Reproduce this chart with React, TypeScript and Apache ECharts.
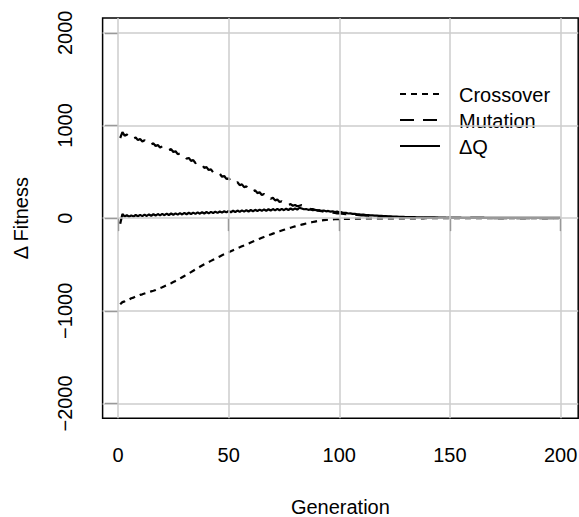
import React, { useEffect, useRef } from "react";
import * as echarts from "echarts";

// Generation index 1..200
const generations: number[] = Array.from({ length: 200 }, (_, i) => i + 1);

const crossover: number[] = [
  -930, -906, -898, -882, -878, -864, -858, -844, -840, -828,
  -822, -814, -806, -798, -790, -784, -776, -766, -756, -746,
  -735, -724, -713, -702, -690, -678, -666, -652, -638, -624,
  -610, -596, -582, -568, -553, -539, -525, -511, -497, -485,
  -473, -461, -449, -437, -425, -413, -401, -390, -379, -368,
  -357, -346, -336, -325, -315, -304, -294, -283, -273, -262,
  -252, -242, -232, -222, -212, -203, -194, -185, -176, -167,
  -158, -150, -142, -134, -126, -118, -110, -103, -96, -89,
  -82, -76, -70, -64, -58, -52, -47, -42, -37, -32,
  -28, -25, -22, -19, -17, -15, -13, -12, -11, -10,
  -9, -8, -8, -7, -7, -6, -6, -5, -5, -5,
  -4, -4, -4, -4, -3, -3, -3, -3, -3, -3,
  -2, -2, -2, -2, -2, -2, -2, -2, -2, -2,
  -2, -2, -2, -2, -2, -2, -2, -2, -1, -1,
  -1, -1, -1, -1, -1, -1, -1, -1, -1, -1,
  -1, -1, -1, -1, -1, -1, -1, -1, -1, -1,
  -1, -1, -1, -1, -1, -1, -1, -1, -1, -1,
  -1, -1, -1, -1, -1, -1, -1, -1, -1, -1,
  -1, -1, -1, -1, -1, -1, -1, -1, -1, -1,
  -1, -1, -1, -1, -1, -1, -1, -1, -1, -1,
];

const mutation: number[] = [
  865, 928, 890, 902, 874, 886, 858, 870, 842, 855,
  828, 840, 812, 824, 796, 807, 778, 790, 762, 775,
  755, 765, 735, 745, 714, 722, 690, 698, 666, 674,
  642, 650, 618, 626, 594, 602, 569, 576, 543, 551,
  519, 527, 495, 503, 471, 479, 447, 455, 423, 431,
  400, 409, 378, 387, 356, 365, 334, 343, 312, 321,
  290, 300, 270, 280, 250, 260, 230, 240, 210, 220,
  192, 200, 174, 182, 158, 166, 143, 151, 134, 142,
  128, 134, 140, 128, 116, 110, 100, 98, 88, 86,
  78, 76, 70, 68, 64, 62, 58, 56, 52, 50,
  48, 47, 44, 43, 40, 39, 36, 35, 32, 31,
  29, 28, 26, 25, 23, 22, 20, 19, 18, 17,
  16, 15, 14, 13, 12, 12, 11, 10, 10, 9,
  9, 8, 8, 7, 7, 7, 6, 6, 6, 5,
  5, 5, 5, 4, 4, 4, 4, 4, 3, 3,
  3, 3, 3, 3, 3, 2, 2, 2, 2, 2,
  2, 2, 2, 2, 2, 2, 2, 1, 1, 1,
  1, 1, 1, 1, 1, 1, 1, 1, 1, 1,
  1, 1, 1, 1, 1, 1, 1, 1, 1, 1,
  1, 1, 1, 1, 1, 1, 1, 1, 1, 1,
];

const deltaQ: number[] = [
  -60, 45, 18, 32, 15, 30, 18, 34, 20, 35,
  22, 38, 24, 40, 26, 42, 28, 44, 30, 46,
  32, 48, 34, 50, 36, 52, 38, 54, 40, 56,
  42, 58, 44, 60, 46, 62, 48, 64, 50, 66,
  52, 68, 55, 70, 57, 72, 60, 75, 62, 77,
  64, 80, 66, 82, 68, 84, 70, 86, 72, 88,
  75, 90, 77, 92, 79, 94, 80, 96, 82, 98,
  84, 100, 85, 100, 86, 102, 88, 104, 90, 105,
  92, 112, 104, 96, 98, 90, 94, 86, 90, 82,
  86, 78, 82, 74, 78, 70, 74, 66, 70, 62,
  64, 56, 58, 50, 52, 46, 47, 41, 42, 37,
  38, 34, 34, 30, 30, 28, 27, 25, 24, 22,
  22, 20, 19, 18, 17, 16, 15, 14, 13, 12,
  12, 11, 10, 10, 9, 9, 8, 8, 7, 7,
  7, 6, 6, 6, 5, 5, 5, 5, 4, 4,
  4, 4, 4, 4, 4, 3, 3, 3, 3, 3,
  3, 3, 3, 3, 3, 3, 3, 2, 2, 2,
  2, 2, 2, 2, 2, 2, 2, 2, 2, 2,
  2, 2, 2, 2, 2, 2, 2, 2, 2, 2,
  2, 2, 2, 2, 2, 2, 2, 2, 2, 2,
];

const xTicks: number[] = [0, 50, 100, 150, 200];
const yTicks: number[] = [-2000, -1000, 0, 1000, 2000];
const xTitle = "Generation";
const yTitle = "\u0394 Fitness";
const legendLabels: string[] = ["Crossover", "Mutation", "\u0394Q"];

const FONT = "Liberation Sans, Arial, Helvetica, sans-serif";
const dashes: (number[] | null)[] = [[6, 5], [14, 9], null];
const fmt = (v: number) => (v < 0 ? "\u2212" + Math.abs(v) : String(v));

export default function App() {
  const ref = useRef<HTMLDivElement>(null);

  useEffect(() => {
    if (!ref.current) return;
    const chart = echarts.init(ref.current, undefined, {
      renderer: "svg",
      width: 579,
      height: 517,
    });

    const pairs = (vals: number[]) => generations.map((g, i) => [g, vals[i]]);
    const seriesVals = [crossover, mutation, deltaQ];

    const legendGraphics: any[] = [];
    legendLabels.forEach((lab, i) => {
      const y = 94 + i * 26;
      const d = dashes[i];
      legendGraphics.push({
        type: "line",
        shape: { x1: 400, y1: y, x2: 440, y2: y },
        style: { stroke: "#000", lineWidth: 2.2, lineDash: d ? d : undefined },
      });
      legendGraphics.push({
        type: "text",
        x: 459,
        y: y + 1,
        style: {
          text: lab,
          fontSize: 20,
          fontFamily: FONT,
          fill: "#000",
          verticalAlign: "middle",
          align: "left",
        },
      });
    });

    chart.setOption({
      animation: false,
      backgroundColor: "#fff",
      grid: {
        left: 102.6,
        right: 0.8,
        top: 18,
        bottom: 98.7,
        containLabel: false,
        outerBoundsMode: "none",
        show: true,
        borderColor: "#000",
        borderWidth: 1.5,
        backgroundColor: "transparent",
      },
      xAxis: {
        type: "value",
        min: -6.96,
        max: 207.96,
        name: xTitle,
        nameLocation: "middle",
        nameGap: 79,
        nameTextStyle: { fontSize: 20, fontFamily: FONT, color: "#000" },
        axisLine: { show: false },
        splitLine: { show: false },
        axisTick: {
          show: true,
          length: 13,
          customValues: xTicks,
          lineStyle: { color: "#000", width: 1.2 },
        },
        axisLabel: {
          show: true,
          customValues: xTicks,
          formatter: fmt,
          margin: 27,
          fontSize: 20,
          fontFamily: FONT,
          color: "#000",
        },
      },
      yAxis: {
        type: "value",
        min: -2160,
        max: 2160,
        name: yTitle,
        nameLocation: "middle",
        nameGap: 72,
        nameTextStyle: { fontSize: 20, fontFamily: FONT, color: "#000" },
        axisLine: { show: false },
        splitLine: { show: false },
        axisTick: {
          show: true,
          length: 13,
          customValues: yTicks,
          lineStyle: { color: "#000", width: 1.2 },
        },
        axisLabel: {
          show: true,
          customValues: yTicks,
          formatter: fmt,
          rotate: 90,
          margin: 28,
          fontSize: 20,
          fontFamily: FONT,
          color: "#000",
        },
      },
      graphic: legendGraphics,
      series: [
        {
          type: "line",
          z: 1,
          data: [[0, 0]],
          showSymbol: false,
          lineStyle: { opacity: 0 },
          silent: true,
          markLine: {
            silent: true,
            symbol: "none",
            label: { show: false },
            lineStyle: { color: "#cccccc", type: "solid", width: 1.5 },
            data: [
              ...xTicks.map((v) => ({ xAxis: v })),
              ...yTicks.map((v) => ({ yAxis: v })),
            ],
          },
        },
        ...seriesVals.map((vals, i) => ({
          type: "line",
          z: 3,
          data: pairs(vals),
          showSymbol: false,
          lineStyle: {
            color: "#000",
            width: 2.2,
            type: dashes[i] ? dashes[i] : "solid",
          },
        })),
      ],
    });

    return () => chart.dispose();
  }, []);

  return (
    <div
      ref={ref}
      style={{ position: "absolute", left: 0, top: 0, width: 579, height: 517 }}
    />
  );
}
